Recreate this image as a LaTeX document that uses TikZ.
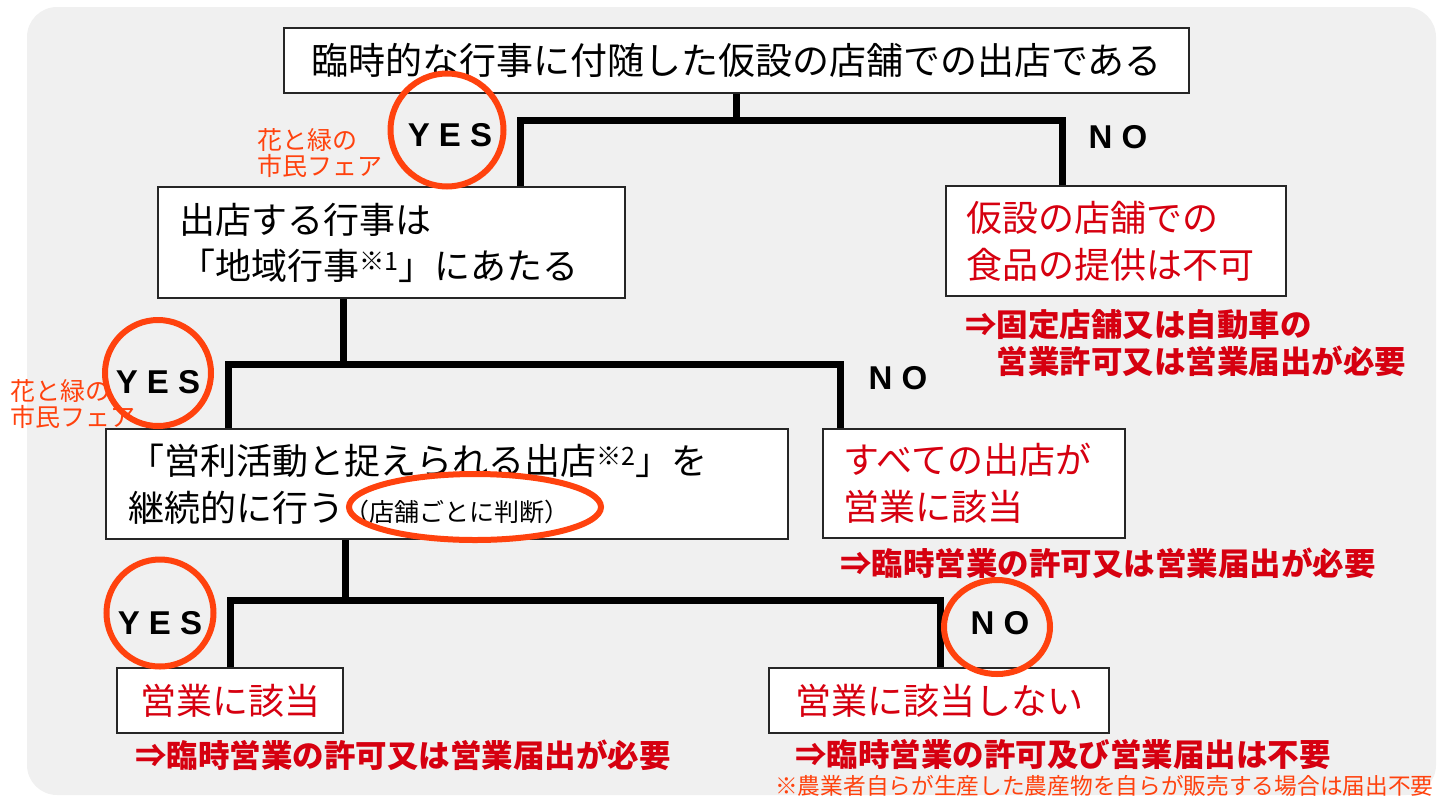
\documentclass[tikz,border=0pt]{standalone}
\usepackage{fontspec}
\setmainfont{Noto Sans CJK JP}
\newfontfamily\yesnofont{Liberation Sans}
\usetikzlibrary{shapes.geometric}
\definecolor{panelgray}{RGB}{240,240,240}
\definecolor{answerred}{RGB}{214,0,16}
\definecolor{markorange}{RGB}{255,66,14}

\begin{document}
\begin{tikzpicture}[
            x = 1pt, y = -1pt, % pixel grid, y grows downwards
            box/.style = {draw=black!85, line width=2pt, fill=white, inner ysep=0pt, anchor=north west},
            wire/.style = {line width=7pt, line join=miter}, % thick tree lines
            ring/.style = {draw=markorange, line width=6pt, circle, minimum size=#1, inner sep=0pt},
            yn/.style = {font=\yesnofont\bfseries\fontsize{33}{33}\selectfont, inner sep=0pt},
            note/.style = {text=answerred, font=\fontsize{31.5}{37}\selectfont\bfseries, anchor=west, align=left, inner sep=0pt},
            fair/.style = {text=markorange, font=\fontsize{25}{26}\selectfont, align=left, anchor=west, inner sep=0pt}
        ]

    \useasboundingbox (0,0) rectangle (1437,798);
    \fill[panelgray, rounded corners=30pt] (27,7) rectangle (1436,795);

    % questions and answers
    \node[box, minimum width=905pt, minimum height=65pt, text width=885pt, inner xsep=10pt, align=center, font=\fontsize{37}{37}\selectfont] (event) at (283,27) {臨時的な行事に付随した仮設の店舗での出店である};
    \node[box, minimum width=467pt, minimum height=111pt, text width=425pt, inner xsep=21pt, align=left, font=\fontsize{36}{46}\selectfont] (act) at (157,186) {出店する行事は\\「地域行事\textsuperscript{※1}」にあたる};
    \node[box, minimum width=340pt, minimum height=110pt, text width=300pt, inner xsep=20pt, align=left, text=answerred, font=\fontsize{36}{47}\selectfont] (nofood) at (945,185) {仮設の店舗での\\食品の提供は不可};
    \node[box, minimum width=682pt, minimum height=110pt, text width=638pt, inner xsep=22pt, align=left, font=\fontsize{36}{47}\selectfont] (profit) at (105,428) {「営利活動と捉えられる出店\textsuperscript{※2}」を\\継続的に行う{\fontsize{25}{25}\selectfont（店舗ごとに判断）}};
    \node[box, minimum width=302pt, minimum height=109pt, text width=262pt, inner xsep=20pt, align=left, text=answerred, font=\fontsize{36}{47}\selectfont] (allbiz) at (822,428) {すべての出店が\\営業に該当};
    \node[box, minimum width=226pt, minimum height=65pt, text width=206pt, inner xsep=10pt, align=center, text=answerred, font=\fontsize{36}{36}\selectfont] (biz) at (116,667) {営業に該当};
    \node[box, minimum width=340pt, minimum height=65pt, text width=320pt, inner xsep=10pt, align=center, text=answerred, font=\fontsize{36}{36}\selectfont] (nobiz) at (768,667) {営業に該当しない};

    % branch positions
    \coordinate (xa) at (520,0);
    \coordinate (xb) at (1062,0);
    \coordinate (xc) at (343,0);
    \coordinate (xd) at (228,0);
    \coordinate (xe) at (840,0);
    \coordinate (xf) at (345,0);
    \coordinate (xg) at (230,0);
    \coordinate (xh) at (940,0);

    \draw[wire] (event.south) -- ++(0,26) coordinate (j1);
    \draw[wire] (act.north -| xa) |- (j1) -| (nofood.north -| xb);
    \draw[wire] (act.south -| xc) -- ++(0,65) coordinate (j2);
    \draw[wire] (profit.north -| xd) |- (j2) -| (allbiz.north -| xe);
    \draw[wire] (profit.south -| xf) -- ++(0,60) coordinate (j3);
    \draw[wire] (biz.north -| xg) |- (j3) -| (nobiz.north -| xh);

    % notes under the answers
    \node[note] (fixnote) at (965,343.5) {⇒固定店舗又は自動車の\\\hspace*{1em}営業許可又は営業届出が必要};
    \node[note] (tempnote) at (840,563) {⇒臨時営業の許可又は営業届出が必要};
    \node[note] (biznote) at (135,755) {⇒臨時営業の許可又は営業届出が必要};
    \node[note] (nobiznote) at (795,755) {⇒臨時営業の許可及び営業届出は不要};
    \node[fair, font=\fontsize{22.7}{23}\selectfont] (farmnote) at (775,786) {※農業者自らが生産した農産物を自らが販売する場合は届出不要};
    \node[fair] (fair1) at (257,153) {花と緑の\\市民フェア};
    \node[fair] (fair2) at (10,404) {花と緑の\\市民フェア};

    % yes / no labels
    \node[yn] (yes1) at (450,135) {Y E S};
    \node[yn] (no1) at (1118,137) {N O};
    \node[yn] (yes2) at (158,382) {Y E S};
    \node[yn] (no2) at (898,378) {N O};
    \node[yn] (yes3) at (160,623) {Y E S};
    \node[yn] (no3) at (1000,623) {N O};

    % red marks
    \node[ring=113pt] (ring1) at (447,130) {};
    \node[ring=106pt] (ring2) at (158,373) {};
    \node[ring=107pt] (ring3) at (160,613) {};
    \node[draw=markorange, line width=6pt, ellipse, minimum width=106pt, minimum height=94pt, inner sep=0pt] (ring4) at (997,627) {};
    \node[draw=markorange, line width=6pt, ellipse, minimum width=252pt, minimum height=66pt, inner sep=0pt] (judge) at (475,507) {};
   
\end{tikzpicture}
\end{document}
